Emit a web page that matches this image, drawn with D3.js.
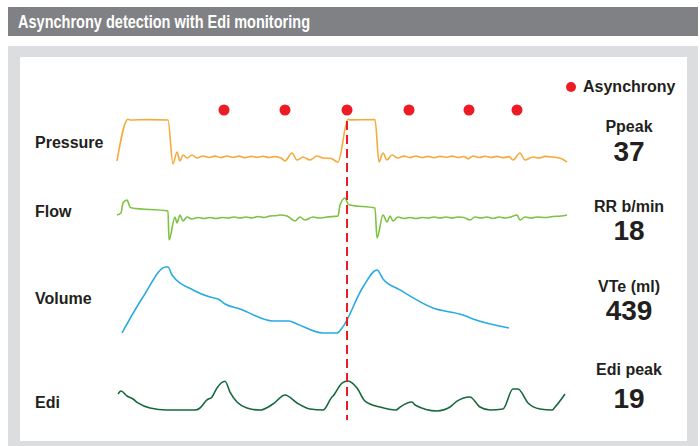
<!DOCTYPE html>
<html lang="en">
<head>
<meta charset="utf-8">
<title>Asynchrony detection with Edi monitoring</title>
<script src="https://cdnjs.cloudflare.com/ajax/libs/d3/7.8.5/d3.min.js"></script>
<style>
  body { margin: 0; background: white; }
  svg { display: block; font-family: "Liberation Sans", Arial, sans-serif; }
  .label { font-weight: bold; font-size: 16px; fill: #231f20; }
  .big { font-weight: bold; font-size: 28px; fill: #231f20; }
</style>
</head>
<body>
<div id="chart"></div>
<script>
// traces: [time (samples), value]
const pressure = [[0,1.7],[11,36.8],[13,36.2],[30,36.5],[51,36.2],[56,-0.8],[60,9.3],[63,1.7],[66,6.7],[70,4.2],[75,6.7],[80,4.2],[86,5.9],
  [92,4.6],[98,5.8],[104,4.5],[110,5.9],[116,4.8],[122,5.8],[128,4.4],[134,5.6],[140,4.8],[146,5.7],[152,4.6],[158,5.4],[164,4.2],
  [168,1.7],[175,8.4],[180,2.5],[186,5.0],[193,2.5],[200,5.9],[206,4.2],[214,3.8],[221,0.8],[231,36.8],[233,36.3],[258,36.5],
  [262,0.8],[266,8.4],[270,2.5],[275,6.7],[281,4.2],[287,5.8],[293,4.5],[299,5.9],[305,4.6],[311,5.6],[317,4.4],[323,5.6],[329,4.8],
  [335,5.8],[341,4.6],[347,5.5],[351,3.4],[356,5.9],[362,4.6],[368,5.7],[374,4.7],[380,5.6],[386,4.5],[392,5.4],[396,2.5],[403,8.4],
  [408,2.5],[416,5.0],[422,4.2],[428,5.6],[436,5.0],[444,3.8],[450,0.8]];

const flow = [[0,0],[4,4],[6,24],[10,30],[13,16],[15,14],[51,8],[52,-50],[58,-4],[60,-16],[63,0],[66,-12],[70,-4],[75,-8],
  [81,-5],[87,-7],[93,-5],[99,-7],[105,-5],[111,-6],[117,-4],[123,-6],[129,-4],[135,-6],[141,-3],[147,-5],[153,-2],[160,-1],[163,0],
  [170,-2],[178,-12],[183,-4],[188,-10],[196,-4],[202,-6],[210,-4],[221,-2],[223,20],[228,34],[231,22],[233,20],[258,14],[260,-46],
  [266,0],[270,-14],[273,-2],[276,-12],[281,-4],[287,-7],[293,-5],[299,-7],[305,-5],[311,-6],[317,-4],[323,-6],[329,-4],[335,-6],
  [341,-4],[347,-5],[353,-10],[358,-4],[364,-6],[370,-4],[376,-7],[382,-4],[388,-6],[394,-4],[400,0],[403,-10],[408,-4],[414,-6],
  [420,-4],[428,-5],[436,-3],[444,-2],[450,0]];

const volume = [[5,13],[26,245],[49,439],[51,439],[55,387],[76,291],[93,245],[101,232],[108,200],[123,168],[156,90],[172,90],
  [180,71],[206,13],[220,13],[225,45],[246,310],[260,420],[266,362],[283,291],[316,174],[346,129],[356,103],[392,45]];

const edi = [[1,10.8],[4,12.7],[10,9.5],[16,7.6],[21,5.1],[33,1.9],[50,0.6],[78,0.6],[83,1.9],[90,7.0],[95,8.9],[100,14.6],
  [108,18.8],[113,12.0],[120,5.7],[130,1.9],[143,0.6],[156,4.4],[168,10.1],[180,5.1],[193,1.3],[206,0.6],[215,8.9],[216,9.5],
  [225,17.7],[231,19],[240,14.6],[248,6.3],[263,2.5],[279,0.6],[283,2.5],[295,5.7],[298,3.8],[320,0],[333,2.5],[340,6.3],[353,8.9],
  [363,2.5],[373,0.6],[386,1.3],[396,13.9],[401,13.9],[411,5.1],[423,1.3],[435,0.6],[438,2.5],[448,10.8]];

const asynchrony = [107, 168, 230, 292, 352, 400];
const triggerTime = 230;

const traceNames = ["Pressure", "Flow", "Volume", "Edi"];
const readoutLabels = ["Ppeak", "RR b/min", "VTe (ml)", "Edi peak"];
const readoutValues = ["37", "18", "439", "19"];

const width = 700, height = 446;

const svg = d3.select("#chart").append("svg")
  .attr("width", width)
  .attr("height", height);

// frames
svg.append("rect").attr("x", 8).attr("y", 7).attr("width", 690).attr("height", 29).attr("fill", "#808184");
svg.append("text")
  .attr("x", 18).attr("y", 28)
  .attr("fill", "white")
  .attr("font-weight", "bold")
  .attr("font-size", 18)
  .attr("textLength", 292)
  .attr("lengthAdjust", "spacingAndGlyphs")
  .text("Asynchrony detection with Edi monitoring");
svg.append("rect").attr("x", 8).attr("y", 46).attr("width", 690).attr("height", 400).attr("fill", "#dcdddf");
svg.append("rect").attr("x", 20).attr("y", 57).attr("width", 667).attr("height", 384).attr("fill", "white");

const x = d3.scaleLinear().domain([0, 453]).range([117, 570]);

const yP = d3.scaleLinear().domain([0, 37]).range([163, 119]);
const yF = d3.scaleLinear().domain([0, 34]).range([215, 198]);
const yV = d3.scaleLinear().domain([0, 439]).range([335, 267]);
const yE = d3.scaleLinear().domain([0, 19]).range([411, 381]);

const traces = [
  { data: pressure, y: yP, color: "#f7a93b" },
  { data: flow, y: yF, color: "#7dc242" },
  { data: volume, y: yV, color: "#29abe2" },
  { data: edi, y: yE, color: "#17683a" }
];

traces.forEach(tr => {
  const line = d3.line()
    .x(d => x(d[0]))
    .y(d => tr.y(d[1]))
    .curve(d3.curveMonotoneX);
  svg.append("path")
    .datum(tr.data)
    .attr("d", line)
    .attr("fill", "none")
    .attr("stroke", tr.color)
    .attr("stroke-width", 1.6)
    .attr("stroke-linejoin", "round");
});

// trace labels
const labelY = [148, 217, 304, 408];
svg.selectAll("text.trace")
  .data(traceNames)
  .enter()
  .append("text")
  .attr("class", "label trace")
  .attr("x", 35)
  .attr("y", (d, i) => labelY[i])
  .text(d => d);

// asynchrony markers
svg.selectAll("circle.async")
  .data(asynchrony)
  .enter()
  .append("circle")
  .attr("class", "async")
  .attr("cx", d => x(d))
  .attr("cy", 110)
  .attr("r", 5.5)
  .attr("fill", "#ed1c24");

svg.append("line")
  .attr("x1", x(triggerTime)).attr("x2", x(triggerTime))
  .attr("y1", 121).attr("y2", 420)
  .attr("stroke", "#ed1c24")
  .attr("stroke-width", 2)
  .attr("stroke-dasharray", "9,5");

// legend
svg.append("circle").attr("cx", 571).attr("cy", 87).attr("r", 5).attr("fill", "#ed1c24");
svg.append("text").attr("class", "label").attr("x", 583).attr("y", 92).text("Asynchrony");

// readouts
const headY = [132, 212, 292, 375];
const valY = [161, 240, 320, 408];
const cx = 629;
readoutLabels.forEach((d, i) => {
  svg.append("text").attr("class", "label").attr("x", cx).attr("y", headY[i])
    .attr("text-anchor", "middle").text(d);
  svg.append("text").attr("class", "big").attr("x", cx).attr("y", valY[i])
    .attr("text-anchor", "middle").text(readoutValues[i]);
});
</script>
</body>
</html>
